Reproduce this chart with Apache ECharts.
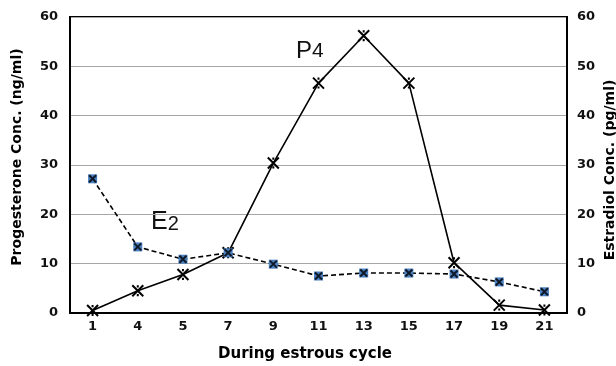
<!DOCTYPE html>
<html><head><meta charset="utf-8">
<script src="https://cdn.jsdelivr.net/npm/echarts@6/dist/echarts.min.js"></script>
<style>html,body{margin:0;padding:0;background:#fff}#c{width:616px;height:366px}</style>
</head><body><div id="c"></div>
<script>
const days = ['1','4','5','7','9','11','13','15','17','19','21'];
const progesterone = [0.5, 4.5, 7.8, 12.2, 30.4, 46.6, 56.2, 46.6, 10.2, 1.6, 0.6];
const estradiol = [27.2, 13.4, 10.9, 12.2, 9.9, 7.5, 8.1, 8.1, 7.9, 6.3, 4.3];
const yTicks = [0, 10, 20, 30, 40, 50, 60];

const font = 'Liberation Sans, Arial, sans-serif';
const boldFont = 'DejaVu Sans, Liberation Sans, sans-serif';
const xMark = 'path://M0,0 L10,10 M10,0 L0,10 M5,0 L5,2 M5,8 L5,10';
const chart = echarts.init(document.getElementById('c'));
const yAxisBase = {
  type: 'value', min: yTicks[0], max: yTicks[yTicks.length-1], interval: 10,
  axisLine: {show: true, lineStyle: {color: '#000', width: 2}},
  axisTick: {show: false},
  splitLine: {show: true, lineStyle: {color: '#a6a6a6', width: 1}},
  axisLabel: {color: '#111', fontWeight: 'bold', fontSize: 13, fontFamily: boldFont},
  nameLocation: 'middle', nameRotate: 90, nameMoveOverlap: false,
  nameTextStyle: {color: '#000', fontWeight: 'bold', fontSize: 14, fontFamily: boldFont}
};
chart.setOption({
  animation: false,
  grid: {left: 70, right: 49, top: 17, bottom: 53, containLabel: false, outerBoundsMode: 'none',
    show: true, borderColor: '#000', borderWidth: 2},
  xAxis: {
    type: 'category', data: days, boundaryGap: true,
    axisLine: {show: true, lineStyle: {color: '#000', width: 2}},
    axisTick: {show: false},
    axisLabel: {color: '#111', fontWeight: 'bold', fontSize: 13, fontFamily: boldFont, margin: 7},
    name: 'During estrous cycle', nameLocation: 'middle', nameGap: 34,
    nameTextStyle: {color: '#000', fontWeight: 'bold', fontSize: 15, fontFamily: boldFont, padding: [0, 27, 0, 0]}
  },
  yAxis: [
    Object.assign({}, yAxisBase, {position: 'left', name: 'Progesterone Conc. (ng/ml)', nameGap: 46,
      axisLabel: Object.assign({}, yAxisBase.axisLabel, {margin: 12}),
      nameTextStyle: Object.assign({}, yAxisBase.nameTextStyle, {padding: [0, 0, 0, 16]})}),
    Object.assign({}, yAxisBase, {position: 'right', name: 'Estradiol Conc. (pg/ml)', nameGap: 36,
      axisLabel: Object.assign({}, yAxisBase.axisLabel, {margin: 10}),
      nameTextStyle: Object.assign({}, yAxisBase.nameTextStyle, {padding: [0, 10, 0, 0]})})
  ],
  series: [
    {
      name: 'P4', type: 'line', yAxisIndex: 0, data: progesterone,
      lineStyle: {color: '#000', width: 1.6},
      symbol: xMark, symbolSize: 11,
      itemStyle: {color: 'none', borderColor: '#000', borderWidth: 2}, z: 3
    },
    {
      name: 'E2', type: 'line', yAxisIndex: 1, data: estradiol,
      lineStyle: {color: '#000', width: 1.6, type: [5, 3]},
      symbol: 'rect', symbolSize: 9,
      itemStyle: {color: '#4a7fc0', borderWidth: 0}, z: 4
    },
    {
      name: 'E2 marker', type: 'scatter', yAxisIndex: 1, data: estradiol,
      symbol: 'path://M0,0 L10,10 M10,0 L0,10', symbolSize: 7,
      itemStyle: {color: 'none', borderColor: '#000', borderWidth: 2}, z: 5, silent: true
    }
  ],
  graphic: [
    {type: 'text', left: 296, top: 39, style: {text: '{a|P}{b|4}', rich: {
      a: {fontSize: 24, fontFamily: font, fill: '#111'}, b: {fontSize: 21, fontFamily: font, fill: '#111'}}}},
    {type: 'text', left: 151, top: 210, style: {text: '{a|E}{b|2}', rich: {
      a: {fontSize: 25, fontFamily: font, fill: '#111'}, b: {fontSize: 20, fontFamily: font, fill: '#111', padding: [4,0,0,0]}}}}
  ]
});
</script></body></html>
